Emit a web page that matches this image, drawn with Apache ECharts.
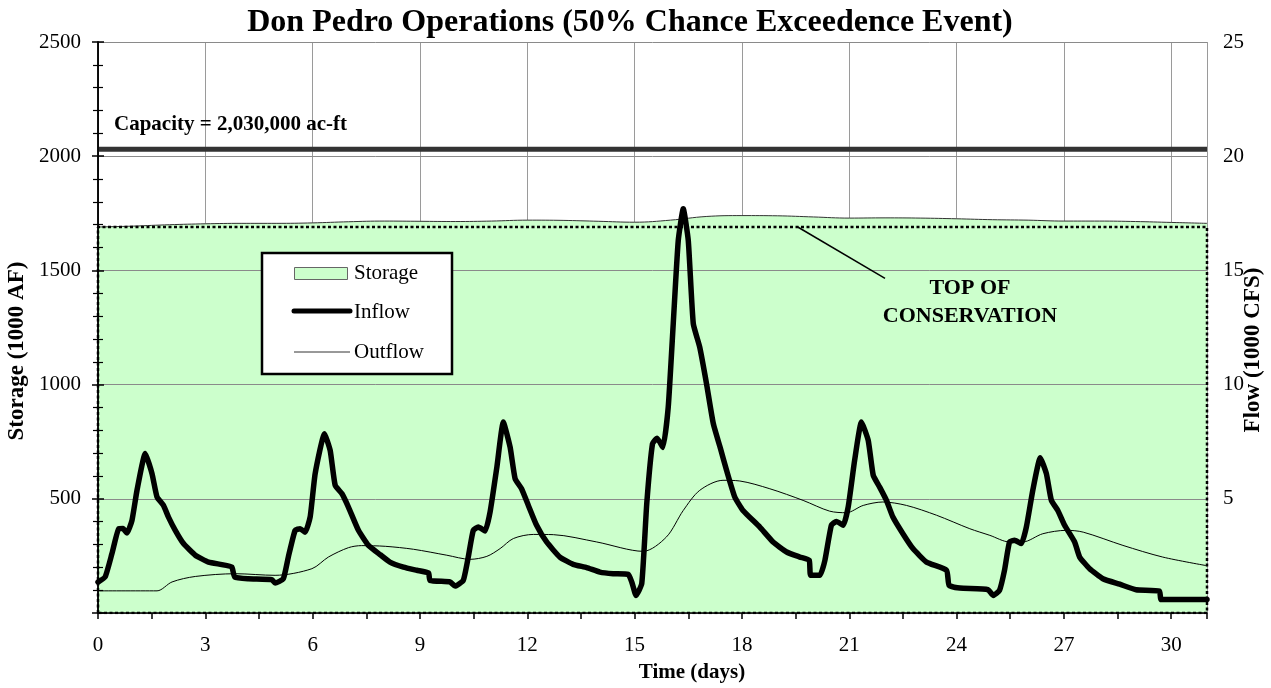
<!DOCTYPE html>
<html><head><meta charset="utf-8">
<script src="https://cdn.jsdelivr.net/npm/echarts@6/dist/echarts.min.js"></script>
<style>html,body{margin:0;padding:0;background:#fff}#c{width:1271px;height:688px}</style>
</head><body><div id="c"></div>
<script>
// ---------- data ----------
const chartTitle = 'Don Pedro Operations (50% Chance Exceedence Event)';
const xAxisTitle = 'Time (days)';
const leftAxisTitle = 'Storage (1000 AF)';
const rightAxisTitle = 'Flow (1000 CFS)';
const capacityLabel = 'Capacity = 2,030,000 ac-ft';
const tocLabel = ['TOP OF', 'CONSERVATION'];
const legendNames = ['Storage', 'Inflow', 'Outflow'];

const capacity = 2030;          // 1000 AF
const topOfConservation = 1690; // 1000 AF
const dayMax = 31;

const storageDays = [0,1,2,3,4,5,6,7,8,9,10,11,12,13,14,15,16,17,18,19,20,21,22,23,24,25,26,27,28,29,30,31];
const storageValues = [1690,1694,1700,1704,1706,1706,1708,1713,1716,1715,1714,1716,1720,1719,1715,1711,1720,1736,1740,1739,1734,1729,1730,1729,1726,1722,1720,1716,1716,1714,1710,1706];

const inflowDays = [0.00,0.20,0.39,0.58,0.70,0.81,0.95,1.09,1.32,1.51,1.65,1.83,1.97,2.16,2.39,2.72,3.09,3.46,3.74,3.82,4.20,4.86,4.95,5.18,5.32,5.51,5.65,5.79,5.93,6.07,6.33,6.49,6.63,6.82,7.00,7.28,7.56,7.89,8.16,8.54,8.91,9.24,9.28,9.84,9.98,10.21,10.35,10.49,10.63,10.82,10.96,11.15,11.33,11.52,11.66,11.84,12.03,12.26,12.54,12.91,13.28,13.66,14.03,14.40,14.82,14.92,15.04,15.20,15.34,15.50,15.63,15.79,15.94,16.08,16.22,16.36,16.50,16.64,16.82,17.01,17.20,17.40,17.57,17.80,18.03,18.50,18.87,19.25,19.62,19.88,19.92,20.18,20.32,20.50,20.64,20.83,20.97,21.15,21.34,21.53,21.67,21.85,22.04,22.22,22.50,22.78,23.16,23.72,23.79,24.09,24.88,25.02,25.20,25.34,25.48,25.62,25.81,25.95,26.13,26.34,26.51,26.65,26.83,27.02,27.30,27.44,27.72,28.09,28.56,29.02,29.67,29.72,31.00];
const inflowValues = [1.35,1.58,2.60,3.69,3.70,3.50,4.06,5.37,6.98,6.10,5.08,4.71,4.20,3.62,3.04,2.53,2.23,2.12,2.01,1.58,1.50,1.46,1.31,1.50,2.45,3.62,3.69,3.54,4.20,6.10,7.85,7.12,5.59,5.22,4.64,3.62,2.96,2.55,2.23,2.01,1.87,1.75,1.43,1.36,1.18,1.43,2.45,3.62,3.76,3.59,4.42,6.39,8.36,7.26,5.88,5.44,4.71,3.84,3.11,2.45,2.13,1.99,1.79,1.72,1.69,1.36,0.77,1.29,4.80,7.41,7.65,7.25,9.02,12.67,16.31,17.70,16.31,12.67,11.64,10.04,8.29,7.20,6.25,5.08,4.49,3.76,3.11,2.67,2.45,2.31,1.65,1.65,2.31,3.84,4.01,3.84,4.64,6.68,8.36,7.56,6.03,5.51,4.93,4.20,3.47,2.82,2.23,1.87,1.21,1.09,1.02,0.77,0.99,1.87,3.11,3.18,3.04,3.76,5.37,6.80,6.10,4.93,4.49,3.84,3.11,2.45,1.94,1.50,1.26,1.02,0.96,0.59,0.59];

const outflowDays = [0,1.65,2.07,2.72,3.84,4.95,5.98,6.44,7.00,7.37,8.03,8.82,9.75,10.40,10.87,11.24,11.61,12.17,12.73,13.94,15.24,15.89,16.36,16.82,17.47,17.94,18.78,19.71,20.45,20.92,21.39,21.94,22.60,23.44,24.37,24.93,25.48,25.85,26.41,27.07,27.54,28.65,29.76,31.00];
const outflowValues = [0.97,0.97,1.36,1.60,1.72,1.65,1.94,2.45,2.86,2.95,2.92,2.79,2.53,2.35,2.48,2.82,3.26,3.44,3.43,3.11,2.70,3.33,4.49,5.37,5.81,5.78,5.44,4.93,4.46,4.39,4.71,4.86,4.71,4.28,3.69,3.40,3.11,3.11,3.47,3.62,3.54,2.96,2.45,2.07];

// ---------- chart ----------
const FONT = "'Liberation Serif','Times New Roman',serif";
const pair = (xs, ys) => xs.map((x, i) => [x, ys[i]]);

const chart = echarts.init(document.getElementById('c'), null, {renderer: 'canvas'});

const txt = (x, y, text, o = {}) => ({
  type: 'text', x, y, rotation: o.rotation || 0, z: 100,
  style: {
    text, fill: '#000',
    font: `${o.bold === false ? '' : 'bold '}${o.size || 21}px ${FONT}`,
    align: o.align || 'center', verticalAlign: 'middle'
  }
});

const option = {
  animation: false,
  backgroundColor: '#fff',
  grid: {left: 98, right: 64, top: 42, bottom: 75, show: false},
  xAxis: [
    { // gridlines only (beneath storage fill)
      type: 'value', min: 0, max: dayMax, interval: 3, z: 0, position: 'bottom',
      axisLine: {show: false}, axisTick: {show: false}, axisLabel: {show: false},
      splitLine: {show: true, lineStyle: {color: '#9a9a9a', width: 1}}
    },
    { // axis line, ticks, labels
      type: 'value', min: 0, max: dayMax, interval: 1.5, z: 20, position: 'bottom',
      axisLine: {show: true, onZero: false, lineStyle: {color: '#000', width: 1.5}},
      axisTick: {show: true, length: 6, inside: false, lineStyle: {color: '#000', width: 1.5}},
      splitLine: {show: false},
      axisLabel: {
        interval: 0, margin: 22, color: '#000', fontFamily: FONT, fontSize: 21,
        formatter: v => (Math.abs(v % 3) < 1e-9 && v <= 30) ? String(v) : ''
      }
    }
  ],
  yAxis: [
    {
      type: 'value', min: 0, max: 2500, interval: 500, z: 1.5, position: 'left',
      axisLine: {show: true, lineStyle: {color: '#000', width: 1.5}},
      axisTick: {show: true, length: 6, lineStyle: {color: '#000', width: 1.5}},
      minorTick: {show: true, splitNumber: 5, length: 5, lineStyle: {color: '#000', width: 1.2}},
      splitLine: {show: true, lineStyle: {color: '#8a8a8a', width: 1}},
      axisLabel: {showMinLabel: false, margin: 17, color: '#000', fontFamily: FONT, fontSize: 21,
        formatter: v => String(v)}
    },
    {
      type: 'value', min: 0, max: 25, interval: 5, z: 20, position: 'right',
      axisLine: {show: true, lineStyle: {color: '#000', width: 1.5}},
      axisTick: {show: true, length: 6, lineStyle: {color: '#000', width: 1.5}},
      minorTick: {show: true, splitNumber: 5, length: 5, lineStyle: {color: '#000', width: 1.2}},
      splitLine: {show: false},
      axisLabel: {showMinLabel: false, margin: 16, color: '#000', fontFamily: FONT, fontSize: 21,
        formatter: v => String(v)}
    }
  ],
  series: [
    {
      name: legendNames[0], type: 'line', xAxisIndex: 0, yAxisIndex: 0, z: 1,
      data: pair(storageDays, storageValues), smooth: 0.4, symbol: 'none',
      lineStyle: {color: '#333', width: 1},
      areaStyle: {color: '#CCFFCC', opacity: 1}
    },
    {
      name: 'TOC', type: 'line', xAxisIndex: 0, yAxisIndex: 0, z: 3, symbol: 'none',
      data: [[0, 0], [0, topOfConservation], [dayMax, topOfConservation], [dayMax, 0], [0, 0]],
      lineStyle: {color: '#000', width: 2.5, type: [3, 2.5]}
    },
    {
      name: 'Capacity', type: 'line', xAxisIndex: 0, yAxisIndex: 0, z: 3, symbol: 'none',
      data: [[0, capacity], [dayMax, capacity]],
      lineStyle: {color: '#333', width: 5}
    },
    {
      name: 'TOC leader', type: 'line', xAxisIndex: 0, yAxisIndex: 0, z: 3, symbol: 'none',
      data: [[19.56, topOfConservation], [22.0, 1465]],
      lineStyle: {color: '#000', width: 1.5}
    },
    {
      name: legendNames[2], type: 'line', xAxisIndex: 0, yAxisIndex: 1, z: 4,
      data: pair(outflowDays, outflowValues), smooth: 0.3, symbol: 'none',
      lineStyle: {color: '#000', width: 1}
    },
    {
      name: legendNames[1], type: 'line', xAxisIndex: 0, yAxisIndex: 1, z: 5,
      data: pair(inflowDays, inflowValues), smooth: 0.15, symbol: 'none',
      lineStyle: {color: '#000', width: 5.5, join: 'round', cap: 'round'}
    }
  ],
  graphic: [
    txt(630, 23, chartTitle, {size: 32}),
    txt(692, 673, xAxisTitle, {size: 21}),
    txt(17, 351, leftAxisTitle, {size: 23, rotation: Math.PI / 2}),
    txt(1253, 350, rightAxisTitle, {size: 23, rotation: Math.PI / 2}),
    txt(114, 125, capacityLabel, {size: 21, align: 'left'}),
    txt(970, 288, tocLabel[0], {size: 22}),
    txt(970, 316, tocLabel[1], {size: 22}),
    // legend box
    {type: 'rect', z: 90, shape: {x: 262, y: 253, width: 190, height: 121},
     style: {fill: '#fff', stroke: '#000', lineWidth: 2.5}},
    {type: 'rect', z: 91, shape: {x: 294.5, y: 267.5, width: 53, height: 12},
     style: {fill: '#CCFFCC', stroke: '#666', lineWidth: 1}},
    {type: 'line', z: 91, shape: {x1: 294, y1: 311, x2: 350, y2: 311},
     style: {stroke: '#000', lineWidth: 5, lineCap: 'round'}},
    {type: 'line', z: 91, shape: {x1: 294, y1: 352, x2: 350, y2: 352},
     style: {stroke: '#333', lineWidth: 1}},
    txt(354, 273, legendNames[0], {size: 21, bold: false, align: 'left'}),
    txt(354, 312, legendNames[1], {size: 21, bold: false, align: 'left'}),
    txt(354, 352, legendNames[2], {size: 21, bold: false, align: 'left'})
  ]
};
chart.setOption(option);
</script>
</body></html>
